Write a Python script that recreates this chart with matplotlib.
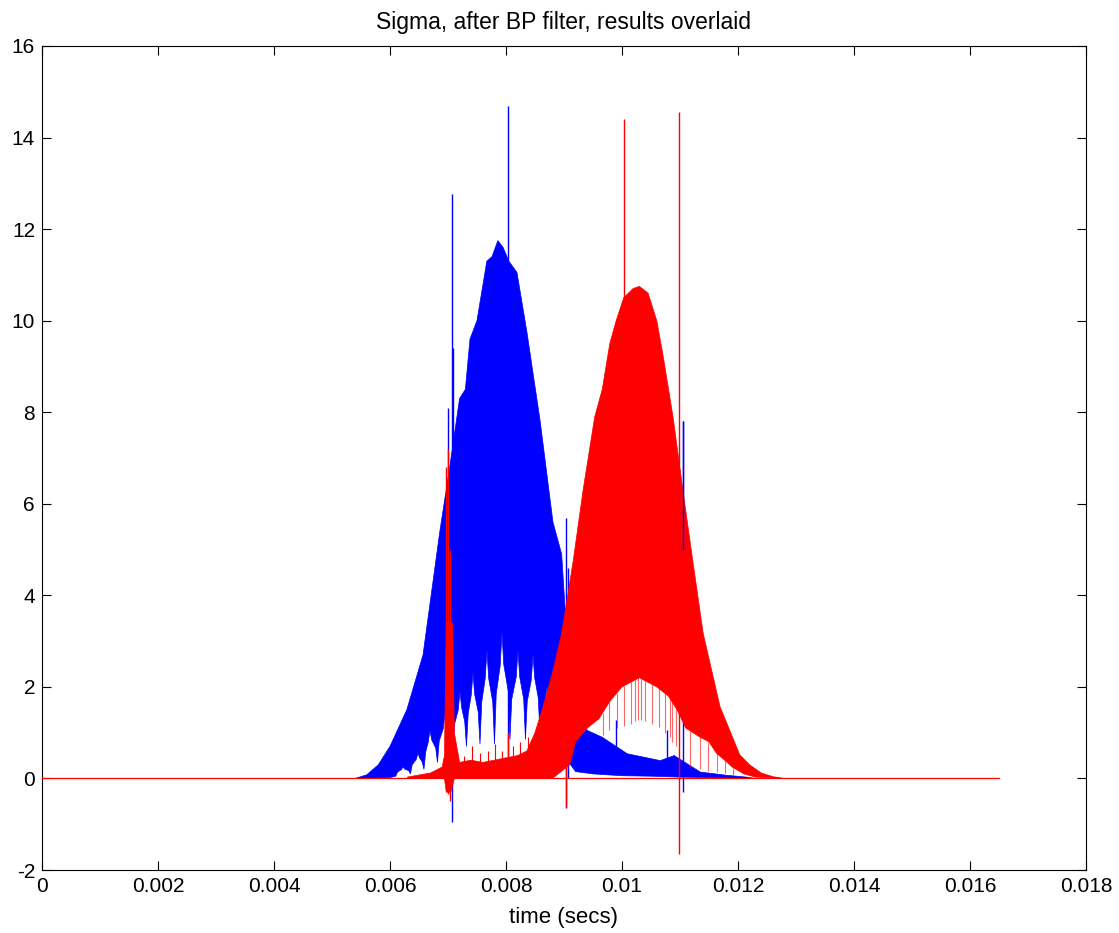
import numpy as np
import matplotlib
matplotlib.use("Agg")
import matplotlib.pyplot as plt

plt.rcParams['font.family'] = ['Liberation Sans', 'DejaVu Sans']
plt.rcParams['axes.unicode_minus'] = False

t_end = 0.0165

# blue trace: upper / lower envelope (time, value)
blue_up_t = [0.0054, 0.0056, 0.0058, 0.0060, 0.00629, 0.00657, 0.00686, 0.00703, 0.0072,
             0.0073, 0.00738, 0.0075, 0.00767, 0.00776, 0.00786, 0.00795, 0.00805, 0.00819,
             0.00836, 0.00859, 0.00881, 0.00896, 0.00905, 0.0092, 0.0094, 0.00966, 0.0099,
             0.01009, 0.01066, 0.0109, 0.01135, 0.0118, 0.01214, 0.0123]
blue_up_v = [0.0, 0.08, 0.3, 0.7, 1.5, 2.7, 5.4, 6.8, 8.3,
             8.5, 9.6, 10.0, 11.3, 11.4, 11.75, 11.6, 11.3, 11.05,
             9.76, 7.8, 5.6, 4.9, 3.1, 2.0, 1.05, 0.9, 0.7,
             0.54, 0.39, 0.5, 0.14, 0.07, 0.03, 0.0]

# lower envelope: white teardrops between the blue "fingers"
blue_lo_t = [0.0054, 0.0060, 0.0061,
             0.00613, 0.006194, 0.006224, 0.006254, 0.006323, 0.006353,
             0.006383, 0.006453, 0.006483, 0.006513, 0.006556, 0.006586,
             0.006616, 0.00666, 0.00669, 0.00672, 0.006789, 0.006819,
             0.006849, 0.006918, 0.006948, 0.006978, 0.007048, 0.007078,
             0.007108, 0.007177, 0.007207, 0.007237, 0.007289, 0.007319,
             0.007349, 0.007401, 0.007431, 0.007461, 0.007522, 0.007552,
             0.007582, 0.007642, 0.007672, 0.007702, 0.007772, 0.007802,
             0.007832, 0.007901, 0.007931, 0.007961, 0.008039, 0.008069,
             0.008099, 0.008177, 0.008207, 0.008237, 0.008306, 0.008336,
             0.008366, 0.008436, 0.008466, 0.008496, 0.008556, 0.008586,
             0.008616, 0.008677, 0.008707, 0.008737, 0.00883, 0.00886,
             0.0090, 0.0092, 0.0095, 0.0100, 0.0105, 0.0110, 0.0115, 0.0123]
blue_lo_v = [0.0, 0.02, 0.05,
             0.14, 0.19, 0.25, 0.205, 0.17, 0.1,
             0.30, 0.415, 0.55, 0.445, 0.36, 0.2,
             0.58, 0.795, 1.05, 0.84, 0.665, 0.35,
             0.82, 1.085, 1.4, 1.145, 0.93, 0.55,
             1.16, 1.495, 1.9, 1.54, 1.24, 0.7,
             1.42, 1.82, 2.3, 1.835, 1.45, 0.75,
             1.67, 2.185, 2.8, 2.185, 1.67, 0.75,
             1.85, 2.465, 3.2, 2.495, 1.91, 0.85,
             1.73, 2.215, 2.8, 2.215, 1.73, 0.85,
             1.68, 2.145, 2.7, 2.19, 1.765, 1.0,
             1.45, 1.7, 2.0, 1.7, 1.45, 1.0,
             0.5, 0.15, 0.1, 0.06, 0.05, 0.03, 0.02, 0.0]

# red trace: upper / lower envelope
red_up_t = [0.0063, 0.0067, 0.0069, 0.00694, 0.00697, 0.00708, 0.00711, 0.0072, 0.0074,
            0.0076, 0.0078, 0.0080, 0.0082, 0.00836, 0.0085, 0.00864, 0.0088, 0.00896,
            0.00916, 0.00933, 0.00953, 0.00966, 0.00979, 0.0099, 0.01003, 0.01019, 0.0103,
            0.01045, 0.0106, 0.0107, 0.01088, 0.01105, 0.01122, 0.0114, 0.01169, 0.01203,
            0.0122, 0.0124, 0.0126, 0.0128]
red_up_v = [0.03, 0.12, 0.25, 0.5, 3.4, 3.4, 1.0, 0.35, 0.4,
            0.35, 0.4, 0.45, 0.5, 0.6, 1.0, 1.57, 2.3, 3.17,
            4.76, 6.3, 7.9, 8.5, 9.5, 10.0, 10.5, 10.7, 10.75,
            10.6, 10.0, 9.3, 7.9, 6.3, 4.76, 3.17, 1.57, 0.52,
            0.3, 0.12, 0.04, 0.0]

red_lo_t = [0.0063, 0.00694, 0.00697, 0.00705, 0.00711, 0.0088, 0.0089, 0.0091, 0.0092,
            0.0094, 0.0096, 0.0098, 0.0100, 0.0103, 0.0106, 0.0108, 0.01095, 0.0111,
            0.01135, 0.0115, 0.01163, 0.01177, 0.0119, 0.0121, 0.0123, 0.0128]
red_lo_v = [0.0, 0.0, -0.3, -0.3, 0.0, 0.0, 0.1, 0.3, 0.8,
            1.1, 1.3, 1.7, 2.0, 2.2, 2.0, 1.8, 1.5, 1.1,
            0.9, 0.8, 0.55, 0.4, 0.25, 0.1, 0.03, 0.0]

# thin individual red traces reaching below the filled band
red_thin_t = [0.00967, 0.00978, 0.00991, 0.01003, 0.01015, 0.01022, 0.01028, 0.01033,
              0.01039, 0.01051, 0.01063, 0.01074, 0.01082, 0.01087, 0.01093, 0.01117,
              0.01135, 0.01149, 0.01163, 0.01177, 0.01192]
red_thin_bot = [0.95, 1.05, 1.1, 1.15, 1.2, 1.25, 1.27, 1.27,
                1.26, 1.2, 1.12, 1.0, 0.9, 0.8, 0.7, 0.25,
                0.2, 0.17, 0.14, 0.11, 0.08]

# red noise spikes in the low band
red_noise_t = [0.00716, 0.00728, 0.00742, 0.00755, 0.00769, 0.00781, 0.00794, 0.00812,
               0.00825, 0.00838]
red_noise_top = [0.6, 0.5, 0.7, 0.55, 0.6, 0.75, 0.6, 0.7, 0.8, 0.9]

# isolated spikes (time, top, bottom)
red_spk_t = [0.00697, 0.00700, 0.00703, 0.00803, 0.00903, 0.01003, 0.01099]
red_spk_top = [6.8, 7.2, 5.0, 1.0, 3.5, 14.4, 14.55]
red_spk_bot = [0.0, -0.35, -0.5, 0.0, -0.63, 2.5, -1.64]

blue_spk_t = [0.00700, 0.00707, 0.00709, 0.00803, 0.00903, 0.00907, 0.0099, 0.01078, 0.01105]
blue_spk_top = [8.1, 12.77, 9.4, 14.7, 5.7, 4.6, 1.27, 1.05, 7.8]
blue_spk_bot = [0.0, -0.96, 0.0, 0.5, -0.65, 0.0, 0.1, 0.1, -0.3]

fig = plt.figure(figsize=(11.19, 9.33), dpi=100)
ax = fig.add_axes([0.0375, 0.0675, 0.933, 0.8832])

ax.plot([0, t_end], [0, 0], color='b', lw=0.8, zorder=1)

ax.fill(blue_up_t + blue_lo_t[::-1], blue_up_v + blue_lo_v[::-1],
        color='b', lw=0.5, zorder=2)
ax.vlines(blue_spk_t, blue_spk_bot, blue_spk_top, color='b', lw=1.0, zorder=2)

ax.fill(red_up_t + red_lo_t[::-1], red_up_v + red_lo_v[::-1],
        color='r', lw=0.5, zorder=3)
ax.vlines(red_thin_t, red_thin_bot, np.interp(red_thin_t, red_lo_t, red_lo_v),
          color='r', lw=0.8, alpha=0.6, zorder=3)
ax.vlines(red_noise_t, 0, red_noise_top, color='r', lw=0.8, zorder=3)
ax.vlines(red_spk_t, red_spk_bot, red_spk_top, color='r', lw=1.0, zorder=4)
# the late blue spike shows through the red band
ax.vlines(blue_spk_t[-1:], [5.0], blue_spk_top[-1:], color='b', lw=1.0, zorder=5)
ax.plot([0, t_end], [0, 0], color='r', lw=0.8, zorder=4)

ax.set_xlim(0, 0.018)
ax.set_ylim(-2, 16)
ax.set_xticks(np.arange(0, 0.0181, 0.002))
ax.set_xticklabels(['0', '0.002', '0.004', '0.006', '0.008', '0.01', '0.012',
                    '0.014', '0.016', '0.018'])
ax.set_yticks(range(-2, 17, 2))
ax.tick_params(direction='in', length=6.5, width=0.8, top=True, right=True,
               labelsize=15, pad=5)
for s in ax.spines.values():
    s.set_linewidth(0.8)

ax.set_title('Sigma, after BP filter, results overlaid', fontsize=16.5, pad=12)
ax.set_xlabel('time (secs)', fontsize=16, labelpad=8)

fig.savefig('out.png', dpi=100)
